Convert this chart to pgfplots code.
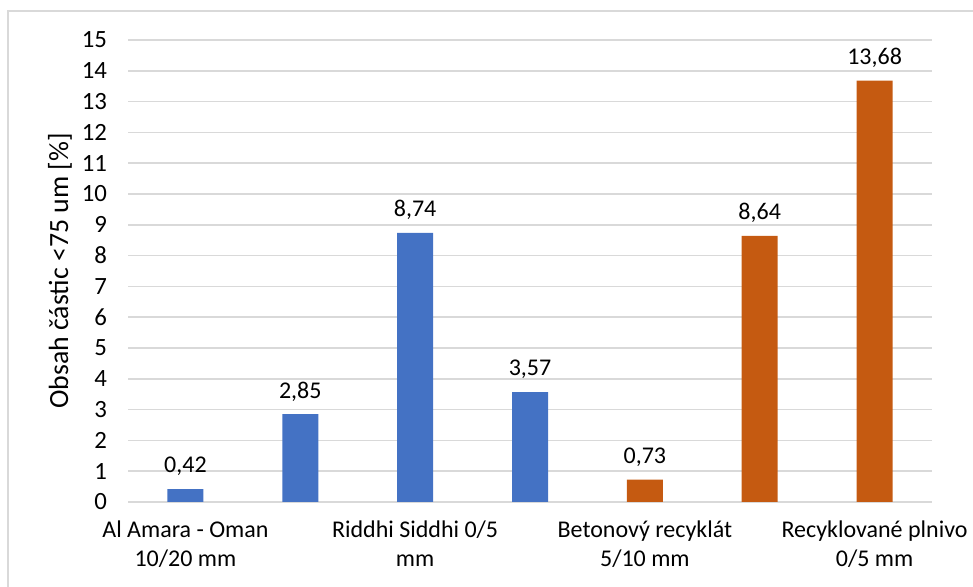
\documentclass[border=0pt]{standalone}
\usepackage{pgfplots}
\pgfplotsset{compat=1.18}
\usepackage{fontspec}
\setmainfont{Carlito}
\definecolor{barblue}{HTML}{4472C4}
\definecolor{barorange}{HTML}{C55A11}
\definecolor{gridgray}{HTML}{D9D9D9}
\begin{document}
\begin{tikzpicture}[font=\fontsize{12}{14.2}\selectfont]
\useasboundingbox (0,0) rectangle (486.5pt,293.5pt);
\draw[gridgray, line width=0.6pt] (4pt,-5pt) -- (4pt,288pt) -- (490pt,288pt);
\begin{axis}[
  at={(64pt,42.5pt)}, anchor=south west,
  scale only axis, width=402pt, height=231pt,
  ybar, bar width=18pt, bar shift=0pt,
  xmin=-0.5, xmax=6.5, ymin=0, ymax=15,
  xtick={0,2,4,6},
  xticklabels={{Al Amara - Oman\\10/20 mm},{Riddhi Siddhi 0/5\\mm},{Betonový recyklát\\5/10 mm},{Recyklované plnivo\\0/5 mm}},
  xticklabel style={align=center, yshift=-6pt},
  ytick={0,1,...,15},
  yticklabel style={xshift=-7pt, font=\fontsize{12.4}{14.2}\selectfont},
  major tick length=0pt,
  axis line style={draw=none},
  ymajorgrids, grid style={gridgray, line width=0.75pt},
  axis x line*=bottom, axis y line*=left,
  x axis line style={gridgray, line width=0.75pt},
  ylabel={Obsah částic <75 um [\%]},
  ylabel style={font=\fontsize{13.9}{16}\selectfont, at={(axis description cs:-0.0846,0.5)}, anchor=center, rotate=0},
  nodes near coords={\pgfmathprintnumber[use comma, fixed, fixed zerofill, precision=2]{\pgfplotspointmeta}},
  every node near coord/.append style={font=\fontsize{12}{14.2}\selectfont, text=black, yshift=3pt},
  /pgf/number format/assume math mode=true,
]
\addplot[fill=barblue, draw=none] coordinates {(0,0.42) (1,2.85) (2,8.74) (3,3.57)};
\addplot[fill=barorange, draw=none] coordinates {(4,0.73) (5,8.64) (6,13.68)};
\end{axis}
\end{tikzpicture}
\end{document}
